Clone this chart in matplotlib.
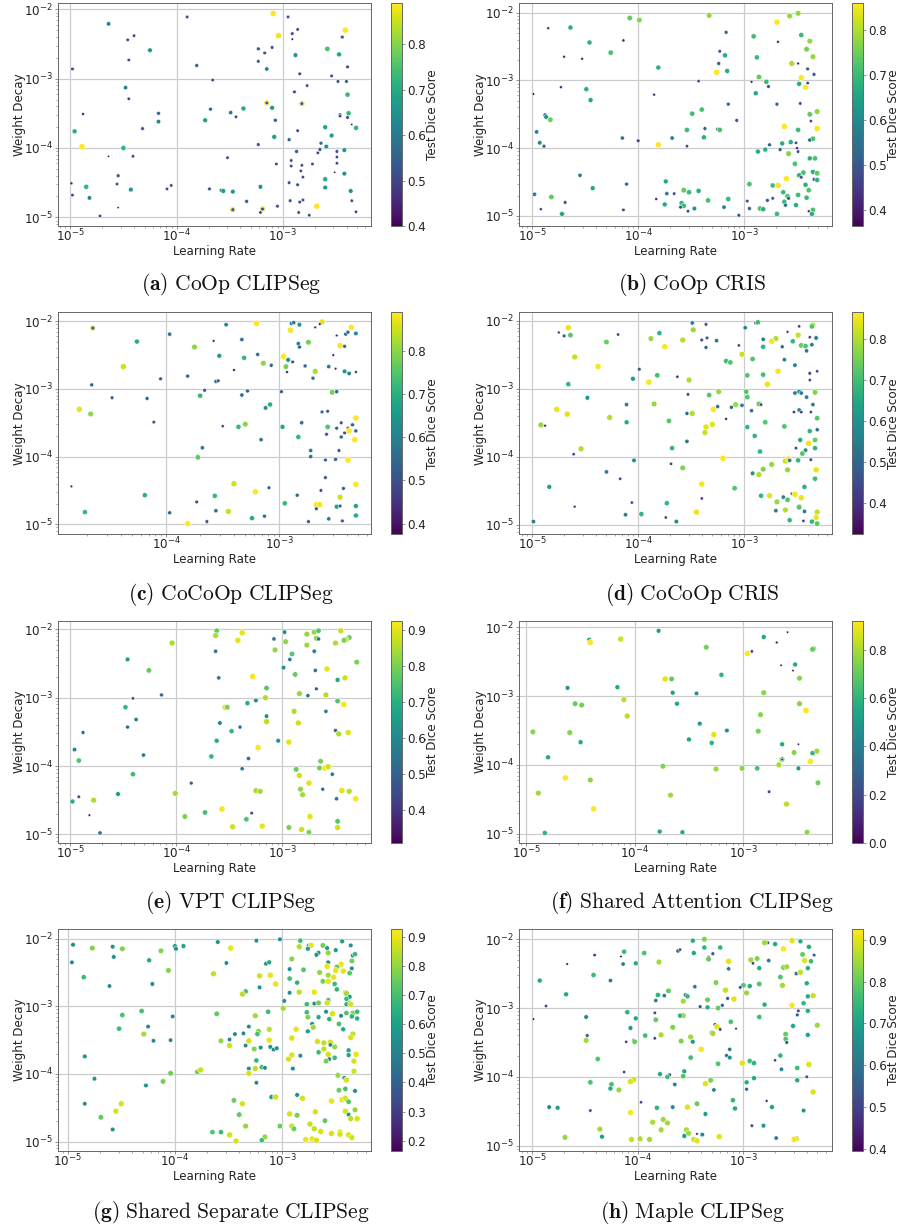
import numpy as np
import matplotlib
matplotlib.use("Agg")
import matplotlib.pyplot as plt
from matplotlib.cm import ScalarMappable
from matplotlib.colors import Normalize

# values below are log10(learning rate), log10(weight decay) and test dice
lr_a = [-4.64,-3.90,-3.09,-2.95,-3.04,-2.41,-2.91,-2.86,-2.91,-4.40,-4.46,-2.44,-4.25,-3.23,-3.10,-3.17,-2.88,-2.58,-2.47,-4.45,
        -3.23,-3.81,-4.98,-3.15,-2.84,-2.39,-2.54,-3.66,-2.48,-2.40,-2.77,-4.48,-2.89,-4.45,-2.39,-3.15,-3.15,-2.82,-2.82,-3.37,
        -3.10,-3.68,-3.49,-3.44,-4.88,-4.17,-4.17,-3.73,-3.07,-4.32,-2.38,-2.46,-2.46,-2.39,-2.35,-2.60,-2.31,-4.96,-2.86,-2.54,
        -3.08,-2.94,-3.23,-2.64,-4.89,-4.50,-2.59,-2.65,-2.42,-2.87,-2.67,-2.49,-4.64,-4.41,-3.52,-2.49,-2.92,-3.06,-2.72,-2.92,
        -2.82,-2.49,-2.83,-2.51,-2.42,-4.55,-2.81,-2.60,-2.94,-4.99,-4.56,-2.86,-4.85,-3.21,-4.09,-4.05,-4.43,-3.69,-3.58,-3.56,
        -3.47,-2.60,-2.36,-4.98,-4.82,-2.81,-3.34,-2.93,-2.84,-2.35,-3.05,-2.68,-4.55,-3.47,-3.47,-3.19,-3.19,-3.21,-2.85,-2.75,
        -2.31,-4.72]
wd_a = [-2.21,-2.11,-2.06,-2.11,-2.38,-2.30,-2.35,-2.29,-2.43,-2.38,-2.44,-2.40,-2.59,-2.57,-2.55,-2.63,-2.66,-2.57,-2.65,-2.73,
        -2.75,-2.81,-2.86,-2.86,-2.93,-2.83,-2.96,-3.02,-3.04,-3.04,-3.10,-3.13,-3.19,-3.29,-3.23,-3.35,-3.35,-3.36,-3.36,-3.43,
        -3.42,-3.44,-3.49,-3.55,-3.51,-3.50,-3.62,-3.60,-3.60,-3.72,-3.50,-3.52,-3.54,-3.56,-3.66,-3.70,-3.71,-3.76,-3.75,-3.82,
        -3.84,-3.88,-3.95,-3.93,-3.98,-4.00,-3.98,-4.02,-4.03,-4.05,-4.07,-4.05,-4.12,-4.12,-4.14,-4.13,-4.18,-4.23,-4.23,-4.26,
        -4.25,-4.22,-4.33,-4.35,-4.37,-4.40,-4.42,-4.45,-4.50,-4.51,-4.52,-4.53,-4.56,-4.56,-4.59,-4.54,-4.60,-4.59,-4.61,-4.62,
        -4.63,-4.57,-4.62,-4.68,-4.72,-4.75,-4.77,-4.76,-4.78,-4.76,-4.84,-4.84,-4.86,-4.89,-4.89,-4.88,-4.88,-4.93,-4.93,-4.97,
        -4.92,-4.98]
dice_a = [.62,.52,.89,.52,.88,.89,.52,.50,.42,.50,.50,.55,.66,.55,.52,.52,.65,.75,.70,.50,
          .52,.55,.52,.60,.52,.52,.50,.50,.52,.52,.50,.60,.52,.50,.72,.89,.52,.89,.52,.70,
          .66,.55,.60,.50,.45,.55,.62,.68,.56,.53,.72,.52,.50,.52,.40,.68,.72,.70,.50,.68,
          .68,.55,.53,.55,.89,.72,.65,.55,.65,.55,.50,.52,.40,.50,.50,.50,.50,.50,.50,.50,
          .50,.50,.50,.40,.65,.55,.50,.70,.52,.47,.50,.52,.72,.65,.50,.50,.66,.52,.55,.68,
          .65,.65,.65,.50,.62,.52,.55,.52,.52,.50,.52,.89,.40,.89,.55,.89,.55,.50,.50,.50,
          .50,.50]

lr_b = [-3.33,-2.49,-2.57,-4.08,-3.99,-2.69,-4.85,-4.64,-3.17,-2.91,-2.46,-4.14,-2.68,-4.46,-2.38,-2.41,-3.23,-4.26,-3.18,-4.70,
        -4.53,-2.88,-2.35,-2.55,-2.49,-3.24,-3.81,-2.40,-3.26,-3.16,-2.34,-2.86,-2.46,-3.43,-2.93,-2.79,-2.48,-2.40,-2.77,-2.42,
        -4.73,-4.49,-2.89,-4.99,-3.85,-4.45,-3.15,-2.69,-2.47,-3.40,-3.49,-2.31,-2.38,-4.88,-4.87,-4.83,-3.07,-2.37,-2.62,-2.31,
        -3.37,-3.54,-3.25,-3.23,-2.49,-4.96,-3.38,-4.15,-3.68,-2.35,-4.00,-2.38,-4.93,-2.56,-2.64,-2.51,-3.81,-2.76,-4.89,-3.54,
        -2.50,-2.80,-2.66,-2.87,-2.49,-2.58,-2.38,-2.33,-2.52,-2.44,-2.35,-2.31,-2.48,-4.55,-2.46,-2.60,-2.34,-2.31,-2.95,-4.11,
        -3.74,-2.73,-2.68,-2.42,-4.43,-3.57,-3.52,-3.43,-2.39,-4.98,-3.73,-3.66,-2.63,-2.49,-4.82,-2.59,-2.58,-3.83,-3.15,-3.34,
        -2.41,-2.78,-2.73,-2.97,-2.62,-4.69,-3.59,-3.75,-3.57,-2.51,-2.61,-3.60,-3.19,-2.95,-2.85,-2.82,-3.47,-4.92,-4.14,-3.53,
        -2.35,-2.39,-4.72,-2.69,-2.36,-3.05]
wd_b = [-2.04,-2.01,-2.05,-2.08,-2.11,-2.14,-2.23,-2.22,-2.29,-2.35,-2.33,-2.41,-2.43,-2.44,-2.42,-2.54,-2.57,-2.59,-2.63,-2.65,
        -2.68,-2.66,-2.65,-2.75,-2.75,-2.75,-2.81,-2.83,-2.88,-2.86,-2.91,-2.95,-2.96,-3.01,-3.02,-3.02,-3.05,-3.04,-3.09,-3.10,
        -3.10,-3.13,-3.19,-3.20,-3.21,-3.29,-3.35,-3.35,-3.34,-3.43,-3.49,-3.46,-3.50,-3.51,-3.54,-3.58,-3.59,-3.60,-3.68,-3.71,
        -3.71,-3.73,-3.72,-3.73,-3.73,-3.76,-3.84,-3.85,-3.85,-3.86,-3.89,-3.88,-3.92,-3.91,-3.93,-3.92,-3.95,-3.95,-3.97,-3.97,
        -4.00,-4.02,-4.02,-4.05,-4.05,-4.08,-4.15,-4.15,-4.23,-4.36,-4.35,-4.37,-4.40,-4.40,-4.43,-4.45,-4.46,-4.47,-4.53,-4.53,
        -4.49,-4.55,-4.55,-4.54,-4.59,-4.62,-4.65,-4.63,-4.62,-4.68,-4.67,-4.67,-4.65,-4.69,-4.72,-4.71,-4.74,-4.75,-4.75,-4.77,
        -4.73,-4.77,-4.74,-4.78,-4.79,-4.80,-4.81,-4.83,-4.85,-4.84,-4.84,-4.87,-4.87,-4.89,-4.89,-4.90,-4.89,-4.90,-4.91,-4.93,
        -4.91,-4.93,-4.97,-4.97,-4.97,-4.99]
dice_b = [.78,.78,.78,.74,.77,.86,.42,.68,.52,.70,.70,.45,.42,.68,.78,.76,.48,.72,.68,.42,
          .42,.70,.78,.80,.42,.52,.68,.50,.86,.68,.52,.74,.86,.45,.42,.70,.67,.47,.50,.86,
          .42,.68,.66,.40,.42,.66,.52,.52,.47,.72,.70,.78,.74,.55,.62,.75,.50,.45,.86,.86,
          .52,.70,.50,.72,.70,.58,.68,.55,.57,.72,.50,.55,.60,.67,.67,.45,.86,.52,.52,.47,
          .45,.68,.52,.68,.47,.77,.68,.72,.72,.72,.68,.74,.68,.56,.47,.86,.50,.68,.72,.52,
          .66,.70,.86,.68,.66,.74,.70,.68,.72,.58,.55,.47,.70,.70,.74,.72,.50,.42,.70,.72,
          .70,.50,.47,.47,.70,.50,.70,.66,.70,.68,.55,.50,.57,.52,.72,.68,.62,.42,.47,.47,
          .72,.42,.65,.70,.68,.50]

lr_c = [-4.65,-4.65,-3.47,-3.20,-2.89,-2.87,-2.82,-2.62,-2.36,-2.68,-2.64,-2.90,-2.49,-2.41,-2.39,-2.32,-3.97,-3.58,-3.33,-4.26,
        -2.83,-2.82,-2.74,-2.46,-2.42,-3.75,-3.53,-3.31,-3.19,-2.96,-2.92,-2.88,-2.52,-4.38,-3.14,-3.07,-2.94,-2.77,-2.56,-3.40,
        -2.93,-2.68,-2.50,-2.42,-2.38,-2.32,-3.81,-4.05,-3.56,-3.54,-2.70,-4.66,-3.66,-2.98,-3.28,-3.70,-3.33,-2.53,-2.49,-4.48,
        -4.17,-3.08,-3.12,-4.77,-4.67,-2.62,-2.57,-4.11,-2.80,-2.45,-2.32,-2.35,-3.50,-3.30,-3.36,-2.97,-2.57,-2.49,-2.39,-2.38,
        -2.32,-2.42,-2.58,-2.45,-2.83,-3.16,-2.33,-2.47,-3.68,-2.72,-2.72,-3.72,-2.39,-2.59,-2.50,-2.59,-4.84,-3.40,-3.09,-2.32,
        -2.63,-2.43,-3.21,-4.19,-3.57,-2.84,-2.46,-3.73,-2.95,-2.67,-2.64,-2.67,-2.49,-2.46,-2.32,-4.72,-3.97,-3.56,-3.45,-3.24,
        -3.13,-2.32,-3.64,-2.74,-2.56,-2.44,-3.81]
wd_c = [-2.10,-2.10,-2.05,-2.03,-2.03,-2.02,-2.05,-2.01,-2.09,-2.09,-2.04,-2.13,-2.21,-2.19,-2.16,-2.18,-2.19,-2.29,-2.27,-2.30,
        -2.33,-2.38,-2.31,-2.36,-2.37,-2.38,-2.51,-2.54,-2.49,-2.52,-2.57,-2.60,-2.50,-2.67,-2.62,-2.65,-2.67,-2.66,-2.67,-2.72,
        -2.75,-2.74,-2.70,-2.74,-2.77,-2.75,-2.81,-2.85,-2.89,-2.88,-2.84,-2.94,-3.02,-3.04,-3.03,-3.10,-3.09,-3.05,-3.04,-3.13,
        -3.14,-3.23,-3.28,-3.30,-3.37,-3.34,-3.33,-3.49,-3.50,-3.50,-3.43,-3.53,-3.55,-3.52,-3.56,-3.56,-3.56,-3.58,-3.58,-3.62,
        -3.62,-3.65,-3.67,-3.71,-3.71,-3.75,-3.75,-3.91,-3.87,-3.91,-4.00,-4.01,-4.05,-4.05,-4.04,-4.31,-4.44,-4.40,-4.46,-4.41,
        -4.50,-4.47,-4.52,-4.57,-4.58,-4.57,-4.60,-4.67,-4.69,-4.71,-4.71,-4.77,-4.74,-4.73,-4.73,-4.82,-4.83,-4.80,-4.81,-4.91,
        -4.88,-4.87,-4.96,-4.96,-4.92,-4.95,-4.99]
dice_c = [.89,.55,.60,.89,.60,.58,.65,.87,.89,.42,.42,.89,.42,.55,.55,.62,.58,.42,.58,.70,
          .60,.55,.78,.89,.52,.80,.66,.72,.55,.89,.65,.50,.42,.85,.80,.55,.78,.55,.58,.42,
          .42,.82,.42,.65,.60,.42,.55,.52,.55,.52,.55,.55,.52,.52,.55,.72,.58,.78,.55,.52,
          .55,.70,.62,.87,.80,.52,.50,.50,.58,.52,.89,.55,.45,.80,.72,.68,.75,.52,.52,.89,
          .55,.50,.52,.55,.72,.58,.89,.52,.58,.58,.58,.76,.89,.52,.55,.52,.42,.85,.52,.89,
          .50,.52,.89,.70,.72,.55,.85,.52,.72,.88,.88,.52,.68,.52,.68,.72,.55,.58,.85,.68,
          .55,.70,.52,.52,.58,.52,.89]

lr_d = [-3.49,-3.36,-2.89,-2.87,-2.35,-2.48,-2.36,-2.99,-4.66,-3.48,-2.59,-3.80,-4.75,-4.70,-4.64,-4.19,-2.49,-3.88,-3.40,-3.35,
        -3.26,-3.58,-2.82,-2.70,-2.74,-2.38,-2.32,-4.30,-2.54,-2.36,-2.46,-2.42,-3.05,-3.75,-3.36,-2.82,-2.64,-2.41,-3.02,-4.60,
        -2.92,-2.62,-3.17,-3.13,-4.38,-2.52,-2.68,-3.99,-2.31,-2.38,-2.82,-2.97,-3.82,-3.63,-4.05,-3.52,-2.38,-3.90,-2.78,-4.66,
        -3.24,-2.98,-2.33,-2.48,-2.52,-2.46,-3.53,-3.33,-2.97,-2.41,-4.48,-3.85,-3.08,-2.86,-2.84,-4.11,-3.25,-3.02,-2.35,-4.77,
        -3.29,-3.12,-2.48,-2.53,-2.46,-2.93,-2.37,-4.67,-3.54,-3.49,-4.27,-3.17,-2.31,-4.11,-3.71,-2.80,-4.92,-4.88,-3.30,-3.36,
        -2.97,-2.62,-3.37,-2.38,-2.31,-2.90,-2.47,-2.39,-2.33,-3.54,-4.54,-3.68,-2.51,-2.33,-2.42,-2.85,-2.45,-4.61,-4.04,-3.20,
        -2.61,-2.58,-2.57,-2.49,-2.37,-3.69,-2.74,-3.58,-2.82,-2.59,-2.32,-4.30,-2.92,-2.86,-4.17,-2.33,-3.40,-4.84,-3.09,-2.43,
        -2.55,-2.52,-2.84,-2.76,-2.63,-2.46,-3.40,-2.59,-2.69,-4.06,-3.73,-4.60,-2.48,-2.48,-2.61,-2.70,-2.43,-3.45,-2.31,-4.12,
        -3.97,-3.74,-2.32,-2.57,-2.44,-4.99,-3.64,-2.36,-2.31]
wd_d = [-2.03,-2.05,-2.03,-2.02,-2.06,-2.08,-2.08,-2.10,-2.10,-2.13,-2.16,-2.18,-2.17,-2.22,-2.21,-2.20,-2.21,-2.26,-2.28,-2.25,
        -2.29,-2.28,-2.27,-2.26,-2.30,-2.24,-2.25,-2.31,-2.30,-2.35,-2.36,-2.37,-2.36,-2.38,-2.39,-2.38,-2.38,-2.44,-2.49,-2.53,
        -2.56,-2.57,-2.59,-2.61,-2.67,-2.65,-2.74,-2.71,-2.74,-2.77,-2.79,-2.80,-2.80,-2.82,-2.85,-2.87,-2.87,-2.90,-2.93,-2.93,
        -3.04,-3.04,-3.05,-3.04,-3.06,-3.06,-3.08,-3.09,-3.12,-3.12,-3.13,-3.22,-3.23,-3.22,-3.23,-3.23,-3.26,-3.24,-3.23,-3.30,
        -3.30,-3.27,-3.31,-3.34,-3.34,-3.32,-3.34,-3.37,-3.36,-3.36,-3.42,-3.44,-3.43,-3.49,-3.47,-3.49,-3.53,-3.54,-3.52,-3.56,
        -3.56,-3.55,-3.64,-3.62,-3.60,-3.69,-3.75,-3.80,-3.75,-3.77,-3.88,-3.87,-3.87,-3.87,-3.90,-3.92,-3.95,-3.96,-4.05,-4.02,
        -4.06,-4.03,-4.05,-4.05,-4.04,-4.10,-4.11,-4.16,-4.18,-4.19,-4.19,-4.22,-4.24,-4.26,-4.32,-4.32,-4.40,-4.44,-4.46,-4.44,
        -4.54,-4.55,-4.57,-4.57,-4.59,-4.60,-4.61,-4.63,-4.66,-4.67,-4.68,-4.73,-4.73,-4.74,-4.78,-4.79,-4.80,-4.81,-4.81,-4.85,
        -4.84,-4.89,-4.89,-4.93,-4.94,-4.95,-4.95,-4.95,-4.98]
dice_d = [.55,.47,.47,.70,.80,.42,.72,.55,.85,.78,.38,.68,.38,.47,.72,.42,.82,.78,.47,.47,
          .55,.80,.55,.80,.86,.42,.58,.74,.68,.55,.74,.72,.42,.86,.50,.68,.50,.55,.82,.82,
          .72,.55,.70,.72,.86,.55,.86,.47,.42,.47,.70,.72,.70,.42,.62,.80,.42,.86,.85,.68,
          .78,.72,.76,.62,.55,.55,.45,.72,.72,.55,.62,.78,.78,.74,.42,.55,.52,.55,.55,.85,
          .86,.50,.55,.42,.45,.52,.42,.84,.52,.80,.80,.38,.72,.65,.72,.72,.78,.38,.84,.84,
          .68,.72,.82,.68,.52,.68,.66,.85,.74,.55,.80,.68,.45,.68,.58,.68,.72,.42,.58,.86,
          .82,.86,.55,.68,.45,.42,.78,.76,.76,.78,.85,.55,.60,.80,.42,.70,.86,.62,.72,.66,
          .42,.86,.68,.84,.55,.85,.42,.72,.78,.42,.68,.38,.68,.72,.80,.55,.55,.85,.82,.55,
          .68,.42,.85,.68,.42,.55,.60,.68,.72]

lr_e = [-3.62,-3.38,-2.98,-2.70,-2.66,-2.45,-2.77,-3.63,-2.37,-2.68,-2.40,-2.42,-3.42,-3.08,-2.97,-2.66,-2.50,-4.04,-2.77,-3.07,
        -3.63,-2.70,-2.91,-4.46,-2.93,-2.99,-2.69,-4.26,-2.30,-2.58,-2.88,-3.28,-3.60,-2.41,-2.48,-2.68,-3.15,-4.14,-2.84,-2.59,
        -2.76,-3.16,-4.41,-3.25,-3.33,-2.48,-2.42,-4.48,-4.48,-3.54,-3.52,-2.89,-2.59,-3.15,-4.38,-3.59,-3.15,-2.85,-4.46,-3.40,
        -3.48,-2.50,-2.47,-2.38,-4.88,-3.04,-2.94,-3.62,-3.23,-4.96,-4.31,-3.67,-3.32,-4.92,-2.64,-2.65,-2.60,-2.57,-2.87,-3.38,
        -2.53,-4.41,-2.84,-3.86,-2.75,-2.83,-2.62,-2.44,-3.25,-3.21,-2.37,-4.01,-4.55,-2.81,-4.92,-2.49,-2.31,-4.78,-4.98,-3.57,
        -3.29,-3.73,-4.82,-3.92,-2.74,-3.34,-2.48,-3.47,-3.19,-2.94,-2.48,-2.82,-2.75,-4.72]
wd_e = [-2.02,-2.05,-2.04,-2.04,-2.02,-2.02,-2.07,-2.09,-2.12,-2.13,-2.15,-2.16,-2.16,-2.14,-2.18,-2.14,-2.20,-2.20,-2.23,-2.30,
        -2.32,-2.32,-2.36,-2.44,-2.44,-2.56,-2.60,-2.60,-2.48,-2.58,-2.66,-2.69,-2.71,-2.71,-2.74,-2.87,-2.86,-2.96,-2.94,-2.96,
        -2.97,-3.00,-3.01,-3.04,-3.08,-3.05,-3.10,-3.14,-3.14,-3.14,-3.14,-3.20,-3.20,-3.27,-3.32,-3.37,-3.35,-3.37,-3.43,-3.43,
        -3.49,-3.48,-3.53,-3.51,-3.51,-3.63,-3.65,-3.63,-3.73,-3.76,-3.84,-3.86,-3.89,-3.92,-3.93,-4.03,-4.03,-4.01,-4.05,-4.04,
        -4.12,-4.12,-4.14,-4.25,-4.25,-4.34,-4.34,-4.36,-4.36,-4.37,-4.37,-4.40,-4.41,-4.42,-4.45,-4.48,-4.48,-4.50,-4.52,-4.63,
        -4.69,-4.68,-4.72,-4.74,-4.74,-4.78,-4.81,-4.89,-4.88,-4.90,-4.90,-4.93,-4.97,-4.98]
dice_e = [.78,.90,.60,.82,.76,.87,.83,.85,.78,.82,.88,.80,.90,.55,.82,.55,.85,.85,.83,.82,
          .55,.60,.76,.65,.55,.62,.55,.78,.80,.90,.78,.92,.55,.88,.68,.48,.76,.52,.83,.86,
          .55,.85,.42,.60,.68,.76,.92,.52,.72,.90,.80,.85,.55,.60,.55,.60,.86,.88,.52,.52,
          .72,.52,.85,.90,.50,.62,.90,.68,.92,.58,.55,.72,.55,.76,.80,.78,.92,.88,.78,.55,
          .55,.74,.88,.50,.90,.82,.50,.90,.84,.84,.86,.84,.65,.84,.45,.55,.92,.85,.70,.92,
          .45,.74,.35,.80,.90,.76,.76,.88,.90,.80,.88,.88,.80,.55]

lr_f = [-3.78,-2.59,-2.81,-4.42,-4.41,-4.13,-2.69,-3.34,-2.35,-2.36,-2.92,-2.96,-2.52,-2.65,-2.54,-3.20,-3.72,-3.66,-2.48,-4.16,
        -4.62,-3.65,-3.43,-2.81,-3.61,-4.55,-4.49,-4.10,-2.48,-2.42,-4.07,-2.84,-3.40,-2.86,-4.94,-4.60,-3.15,-3.27,-3.50,-4.50,
        -3.29,-2.64,-2.49,-2.53,-2.32,-2.36,-4.80,-2.64,-2.64,-2.38,-3.74,-2.67,-2.87,-3.25,-3.01,-2.49,-4.64,-4.41,-2.31,-2.76,
        -4.89,-3.67,-2.60,-4.38,-4.83,-3.77,-3.56,-2.41]
wd_f = [-2.05,-2.07,-2.14,-2.18,-2.22,-2.17,-2.22,-2.29,-2.31,-2.32,-2.35,-2.38,-2.54,-2.55,-2.63,-2.69,-2.75,-2.75,-2.74,-2.87,
        -2.88,-2.95,-2.96,-2.95,-3.11,-3.11,-3.13,-3.05,-3.11,-3.21,-3.29,-3.27,-3.40,-3.51,-3.52,-3.53,-3.50,-3.56,-3.63,-3.67,
        -3.68,-3.70,-3.70,-3.82,-3.80,-3.83,-3.89,-3.92,-3.92,-3.95,-4.02,-4.00,-4.05,-4.06,-4.05,-4.05,-4.19,-4.22,-4.26,-4.39,
        -4.41,-4.44,-4.57,-4.64,-4.99,-4.97,-4.98,-4.98]
dice_f = [.50,.02,.55,.50,.92,.85,.10,.72,.75,.70,.20,.92,.55,.02,.02,.60,.88,.70,.75,.55,
          .48,.52,.45,.76,.55,.70,.72,.82,.75,.92,.82,.75,.50,.72,.75,.75,.45,.88,.55,.55,
          .60,.55,.02,.75,.78,.60,.55,.70,.02,.92,.74,.80,.65,.78,.75,.50,.92,.76,.72,.20,
          .78,.78,.82,.92,.60,.55,.55,.76]

lr_g = [-4.95,-4.77,-4.58,-4.49,-4.13,-4.00,-3.99,-3.92,-3.60,-3.24,-3.02,-2.83,-3.48,-2.84,-2.75,-2.73,-2.76,-2.62,-2.58,-2.50,
        -2.44,-2.36,-2.57,-2.66,-2.68,-2.34,-2.32,-4.96,-4.57,-4.24,-2.91,-2.35,-3.52,-3.15,-3.12,-2.57,-2.45,-2.58,-2.49,-2.93,
        -2.80,-2.43,-2.50,-2.35,-4.06,-2.37,-2.65,-4.85,-3.64,-3.21,-3.11,-2.57,-2.52,-2.93,-2.57,-2.62,-2.51,-2.86,-3.06,-4.21,
        -4.61,-3.21,-2.49,-3.34,-3.37,-2.93,-2.84,-2.70,-2.41,-2.40,-2.98,-2.37,-2.40,-2.57,-2.37,-2.77,-2.70,-2.66,-2.58,-2.40,
        -2.36,-2.99,-4.31,-3.61,-3.13,-2.59,-2.77,-2.53,-2.40,-2.34,-2.30,-4.49,-4.02,-3.25,-2.76,-2.66,-2.45,-2.56,-2.35,-2.30,
        -2.72,-2.47,-4.25,-3.31,-2.71,-2.43,-4.52,-3.12,-2.87,-2.76,-3.22,-3.36,-3.44,-3.23,-4.29,-2.34,-2.36,-3.49,-4.04,-4.20,
        -3.57,-3.31,-2.91,-3.12,-2.67,-2.61,-2.55,-2.55,-3.34,-3.49,-3.11,-3.20,-2.51,-2.61,-3.26,-3.08,-3.05,-2.66,-2.38,-2.91,
        -2.57,-2.38,-2.31,-4.84,-2.83,-2.51,-2.94,-2.56,-2.59,-3.24,-2.33,-3.19,-3.16,-3.31,-3.25,-2.90,-3.79,-3.76,-2.33,-3.31,
        -4.04,-2.48,-2.42,-4.75,-2.40,-4.11,-3.24,-4.27,-2.41,-2.47,-2.32,-3.10,-3.06,-2.86,-2.81,-3.45,-3.37,-2.54,-2.44,-2.41,
        -2.38,-4.84,-4.50,-4.55,-2.41,-2.32,-2.93,-2.86,-2.69,-3.40,-2.38,-4.69,-2.36,-2.30,-2.60,-2.74,-3.34,-3.02,-2.91,-2.89,
        -2.70,-4.58,-2.64,-3.65,-3.57,-2.54,-2.46,-2.46,-3.49,-2.38,-2.35,-3.16,-3.19,-3.43,-2.78,-2.72,-2.68]
wd_g = [-2.09,-2.14,-2.12,-2.15,-2.18,-2.11,-2.15,-2.11,-2.05,-2.03,-2.01,-2.03,-2.14,-2.12,-2.10,-2.10,-2.15,-2.10,-2.14,-2.17,
        -2.04,-2.10,-2.21,-2.21,-2.24,-2.25,-2.23,-2.35,-2.27,-2.32,-2.30,-2.33,-2.36,-2.37,-2.35,-2.35,-2.38,-2.41,-2.42,-2.45,
        -2.46,-2.48,-2.47,-2.44,-2.47,-2.51,-2.50,-2.57,-2.52,-2.55,-2.54,-2.54,-2.57,-2.59,-2.63,-2.63,-2.67,-2.65,-2.67,-2.67,
        -2.70,-2.72,-2.75,-2.78,-2.82,-2.80,-2.79,-2.79,-2.80,-2.81,-2.92,-2.86,-2.89,-2.91,-2.95,-2.97,-2.96,-2.95,-2.95,-2.97,
        -2.97,-3.03,-3.07,-3.11,-3.08,-3.08,-3.09,-3.11,-3.10,-3.10,-3.08,-3.13,-3.15,-3.14,-3.16,-3.16,-3.14,-3.19,-3.15,-3.18,
        -3.26,-3.26,-3.30,-3.30,-3.31,-3.34,-3.33,-3.34,-3.34,-3.37,-3.37,-3.40,-3.41,-3.41,-3.41,-3.41,-3.46,-3.49,-3.50,-3.51,
        -3.51,-3.51,-3.47,-3.50,-3.52,-3.54,-3.53,-3.57,-3.58,-3.58,-3.60,-3.61,-3.60,-3.63,-3.63,-3.64,-3.62,-3.68,-3.65,-3.72,
        -3.71,-3.72,-3.71,-3.74,-3.73,-3.76,-3.78,-3.78,-3.81,-3.80,-3.81,-3.90,-3.91,-3.92,-3.92,-3.92,-3.97,-3.94,-3.96,-3.99,
        -3.99,-4.02,-4.06,-4.07,-4.09,-4.11,-4.13,-4.17,-4.22,-4.24,-4.25,-4.34,-4.34,-4.31,-4.36,-4.39,-4.44,-4.40,-4.38,-4.36,
        -4.41,-4.44,-4.44,-4.55,-4.55,-4.53,-4.59,-4.61,-4.56,-4.60,-4.60,-4.64,-4.66,-4.66,-4.69,-4.74,-4.77,-4.77,-4.77,-4.81,
        -4.81,-4.82,-4.85,-4.86,-4.86,-4.88,-4.86,-4.89,-4.90,-4.90,-4.94,-4.93,-4.98,-4.99,-4.97,-4.96,-4.98]
dice_g = [.55,.78,.55,.78,.78,.60,.55,.60,.55,.55,.55,.70,.90,.83,.58,.90,.58,.76,.58,.58,
          .60,.55,.80,.55,.55,.55,.68,.50,.55,.62,.78,.76,.50,.55,.62,.55,.90,.90,.72,.55,
          .72,.90,.90,.55,.78,.72,.80,.68,.85,.87,.90,.82,.90,.70,.90,.76,.68,.65,.90,.55,
          .50,.55,.66,.70,.85,.55,.85,.90,.90,.82,.55,.60,.68,.68,.62,.68,.52,.76,.88,.62,
          .88,.82,.70,.74,.68,.55,.68,.88,.72,.78,.68,.70,.52,.82,.78,.62,.52,.65,.65,.65,
          .55,.70,.50,.50,.82,.62,.68,.85,.90,.60,.78,.52,.50,.70,.82,.85,.88,.50,.50,.50,
          .80,.88,.88,.90,.88,.85,.88,.50,.50,.87,.55,.55,.80,.85,.78,.50,.55,.68,.62,.88,
          .88,.62,.90,.55,.55,.68,.88,.50,.76,.66,.88,.70,.50,.55,.85,.55,.76,.86,.87,.88,
          .76,.80,.55,.55,.88,.76,.50,.55,.70,.75,.55,.60,.87,.55,.88,.75,.88,.90,.90,.88,
          .72,.50,.88,.88,.88,.80,.88,.76,.88,.74,.55,.74,.85,.88,.74,.86,.80,.75,.86,.75,
          .86,.55,.88,.72,.68,.88,.88,.88,.88,.88,.88,.80,.68,.88,.90,.90,.88]

lr_h = [-3.37,-3.48,-2.54,-2.46,-2.77,-2.80,-2.70,-2.38,-3.22,-3.37,-2.62,-3.62,-3.60,-4.13,-3.94,-3.47,-3.29,-4.41,-4.16,-2.44,
        -2.33,-3.33,-3.33,-2.93,-2.87,-2.76,-2.42,-2.36,-3.14,-3.80,-4.14,-4.67,-4.02,-2.91,-2.85,-2.62,-2.59,-2.39,-3.14,-2.50,
        -2.46,-4.42,-2.65,-4.93,-4.26,-3.26,-2.40,-3.00,-2.94,-2.85,-3.03,-2.63,-3.46,-3.71,-3.17,-2.97,-4.68,-3.81,-3.55,-3.53,
        -3.75,-2.39,-2.34,-3.15,-3.34,-3.09,-3.83,-3.57,-2.43,-2.80,-2.54,-4.87,-3.41,-3.34,-3.24,-3.20,-2.48,-2.39,-3.84,-4.10,
        -3.57,-3.60,-4.49,-2.49,-2.85,-4.02,-3.83,-4.99,-3.12,-3.27,-3.25,-2.30,-3.67,-4.07,-3.22,-3.07,-2.53,-3.30,-3.29,-3.93,
        -4.48,-3.78,-2.60,-2.39,-3.50,-2.60,-3.84,-4.49,-4.11,-4.04,-4.03,-3.59,-3.48,-2.59,-3.40,-3.13,-3.16,-3.13,-3.50,-2.65,
        -4.38,-2.70,-2.94,-2.90,-3.24,-3.01,-2.38,-2.49,-2.64,-3.56,-4.13,-3.79,-3.70,-3.72,-3.57,-2.40,-2.90,-4.45,-2.49,-3.31,
        -2.97,-4.04,-4.07,-3.36,-4.25,-4.26,-3.65,-4.18,-3.28,-2.97,-2.34,-3.10,-3.97,-2.78,-3.44,-4.84,-4.76,-3.82,-3.67,-3.53,
        -3.08,-2.73,-4.45,-2.43,-4.07,-3.36,-3.76,-3.86,-3.72,-2.92,-2.81,-4.36,-3.78,-3.54,-3.52,-3.44,-3.39,-3.56,-4.34,-4.69,
        -3.23,-2.69,-2.50,-2.52,-3.98,-3.98,-4.06,-3.89,-3.47,-3.44]
wd_h = [-2.00,-2.02,-2.02,-2.03,-2.05,-2.05,-2.07,-2.11,-2.12,-2.12,-2.14,-2.17,-2.15,-2.18,-2.20,-2.20,-2.21,-2.23,-2.25,-2.22,
        -2.23,-2.26,-2.29,-2.30,-2.28,-2.31,-2.31,-2.32,-2.32,-2.33,-2.36,-2.36,-2.35,-2.35,-2.42,-2.41,-2.40,-2.42,-2.43,-2.50,
        -2.48,-2.52,-2.55,-2.60,-2.60,-2.63,-2.64,-2.67,-2.68,-2.65,-2.70,-2.67,-2.69,-2.75,-2.74,-2.78,-2.80,-2.81,-2.81,-2.83,
        -2.82,-2.83,-2.82,-2.86,-2.88,-2.87,-2.89,-2.90,-2.93,-2.95,-2.96,-2.97,-2.98,-2.99,-3.00,-2.96,-3.04,-3.04,-3.07,-3.06,
        -3.11,-3.11,-3.13,-3.10,-3.13,-3.15,-3.17,-3.16,-3.20,-3.24,-3.27,-3.25,-3.28,-3.29,-3.31,-3.30,-3.26,-3.36,-3.37,-3.40,
        -3.40,-3.39,-3.38,-3.39,-3.42,-3.45,-3.44,-3.47,-3.49,-3.47,-3.49,-3.48,-3.49,-3.50,-3.60,-3.60,-3.69,-3.72,-3.72,-3.69,
        -3.74,-3.76,-3.77,-3.80,-3.81,-3.80,-3.82,-3.87,-3.89,-3.92,-3.93,-3.96,-3.97,-4.00,-3.99,-4.00,-4.02,-4.08,-4.05,-4.05,
        -4.08,-4.04,-4.07,-4.10,-4.11,-4.17,-4.11,-4.19,-4.19,-4.18,-4.22,-4.34,-4.37,-4.35,-4.39,-4.44,-4.45,-4.45,-4.44,-4.44,
        -4.46,-4.44,-4.49,-4.49,-4.52,-4.54,-4.62,-4.66,-4.67,-4.71,-4.71,-4.76,-4.77,-4.77,-4.82,-4.83,-4.84,-4.86,-4.87,-4.88,
        -4.87,-4.89,-4.90,-4.91,-4.90,-4.90,-4.91,-4.91,-4.91,-4.93]
dice_h = [.82,.72,.90,.72,.55,.85,.72,.72,.74,.74,.92,.60,.48,.76,.78,.72,.55,.50,.42,.80,
          .52,.55,.80,.85,.82,.62,.90,.76,.90,.85,.60,.42,.72,.50,.72,.82,.85,.72,.60,.60,
          .88,.76,.78,.72,.60,.82,.72,.78,.72,.78,.52,.85,.60,.80,.88,.84,.72,.74,.60,.74,
          .60,.72,.88,.55,.80,.90,.60,.85,.74,.72,.92,.50,.55,.72,.80,.55,.52,.72,.50,.74,
          .85,.74,.65,.55,.76,.70,.80,.42,.78,.55,.90,.85,.82,.68,.52,.42,.72,.72,.85,.76,
          .55,.86,.80,.70,.85,.78,.50,.85,.47,.55,.80,.82,.68,.55,.92,.60,.55,.68,.76,.74,
          .78,.47,.76,.74,.78,.90,.90,.76,.62,.70,.48,.72,.55,.76,.78,.52,.72,.78,.72,.82,
          .72,.88,.90,.90,.76,.72,.62,.84,.62,.55,.90,.75,.48,.45,.80,.65,.68,.74,.65,.90,
          .72,.70,.50,.68,.92,.68,.85,.86,.85,.52,.68,.85,.85,.86,.85,.42,.65,.70,.68,.84,
          .90,.62,.88,.92,.80,.86,.88,.85,.88,.90]

titles = ["(a)", "(b)", "(c)", "(d)", "(e)", "(f)", "(g)", "(h)"]
names = ["CoOp CLIPSeg", "CoOp CRIS", "CoCoOp CLIPSeg", "CoCoOp CRIS", "VPT CLIPSeg",
         "Shared Attention CLIPSeg", "Shared Separate CLIPSeg", "Maple CLIPSeg"]
all_lr = [lr_a, lr_b, lr_c, lr_d, lr_e, lr_f, lr_g, lr_h]
all_wd = [wd_a, wd_b, wd_c, wd_d, wd_e, wd_f, wd_g, wd_h]
all_dice = [dice_a, dice_b, dice_c, dice_d, dice_e, dice_f, dice_g, dice_h]

# colorbar ranges and ticks
dice_lims = [(0.40, 0.89), (0.365, 0.86), (0.375, 0.89), (0.325, 0.865),
             (0.31, 0.925), (0.0, 0.92), (0.165, 0.925), (0.395, 0.925)]
cbar_ticks = [[.4, .5, .6, .7, .8], [.4, .5, .6, .7, .8], [.4, .5, .6, .7, .8], [.4, .5, .6, .7, .8],
              [.4, .5, .6, .7, .8, .9], [0, .2, .4, .6, .8], [.2, .3, .4, .5, .6, .7, .8, .9],
              [.4, .5, .6, .7, .8, .9]]

# axis limits in decades
x_lims = [(-5.116, -2.169), (-5.126, -2.17), (-4.959, -2.186), (-5.126, -2.17),
          (-5.116, -2.165), (-5.068, -2.18), (-5.09, -2.171), (-5.126, -2.161)]
y_lims = [(-5.125, -1.913), (-5.148, -1.862), (-5.148, -1.867), (-5.137, -1.873),
          (-5.127, -1.873), (-5.136, -1.903), (-5.138, -1.862), (-5.078, -1.855)]

W, H = 898, 1230
plt.rcParams["mathtext.fontset"] = "cm"
fig = plt.figure(figsize=(W / 100, H / 100), dpi=100)

# pixel boxes of the panels
col_left = [58, 519]
col_right = [371, 832]
cb_left = [391, 852]
cb_right = [402, 863]
row_top = [3.3, 312.3, 620.7, 929.3]
row_bot = [226, 534.3, 843, 1151]
cap_x = [231, 692]
cap_y = [285, 594, 902, 1212]
GRAY = "#666666"
FS = 8.6


def box(l, r, t, b):
    return [l / W, 1 - b / H, (r - l) / W, (b - t) / H]


for i in range(8):
    c, r = i % 2, i // 2
    ax = fig.add_axes(box(col_left[c], col_right[c], row_top[r], row_bot[r]))
    dice = np.array(all_dice[i])
    lo, hi = dice_lims[i]
    norm = Normalize(lo, hi)
    sizes = 2.5 + 17 * norm(dice)
    ax.grid(True, which="major", color="#cccccc", lw=0.9, zorder=0)
    ax.scatter(10.0 ** np.array(all_lr[i]), 10.0 ** np.array(all_wd[i]), c=dice, cmap="viridis", norm=norm,
               s=sizes, edgecolors="white", linewidths=0.35, zorder=3)
    ax.set_xscale("log")
    ax.set_yscale("log")
    ax.set_xlim(10 ** x_lims[i][0], 10 ** x_lims[i][1])
    ax.set_ylim(10 ** y_lims[i][0], 10 ** y_lims[i][1])
    ax.set_axisbelow(True)
    ax.tick_params(which="major", labelsize=FS, length=2.5, width=0.5, color=GRAY, labelcolor="#222222")
    ax.tick_params(which="minor", length=1.5, width=0.4, color=GRAY)
    ax.tick_params(axis="x", which="major", pad=-1.5)
    ax.tick_params(axis="y", which="major", pad=1)
    ax.set_xlabel("Learning Rate", fontsize=FS, labelpad=0.5, color="#222222")
    ax.set_ylabel("Weight Decay", fontsize=FS, labelpad=-1, color="#222222")
    for s in ax.spines.values():
        s.set_color(GRAY)
        s.set_linewidth(0.7)

    cax = fig.add_axes(box(cb_left[c], cb_right[c], row_top[r], row_bot[r]))
    cb = fig.colorbar(ScalarMappable(norm=norm, cmap="viridis"), cax=cax)
    cb.set_ticks(cbar_ticks[i])
    cb.set_ticklabels(["%.1f" % t for t in cbar_ticks[i]])
    cb.ax.tick_params(labelsize=FS, length=2.5, width=0.5, pad=1.5, color=GRAY, labelcolor="#222222")
    cb.set_label("Test Dice Score", fontsize=FS, labelpad=-0.5, color="#222222")
    cb.outline.set_edgecolor(GRAY)
    cb.outline.set_linewidth(0.7)

    # caption set like the LaTeX subfigure labels
    label = names[i].replace(" ", r"\ ")
    fig.text(cap_x[c] / W, 1 - cap_y[r] / H, r"$\mathbf{%s}\ \mathrm{%s}$" % (titles[i], label),
             fontsize=15.5, ha="center", va="center", color="#111111")

fig.savefig("out.png", dpi=100)
